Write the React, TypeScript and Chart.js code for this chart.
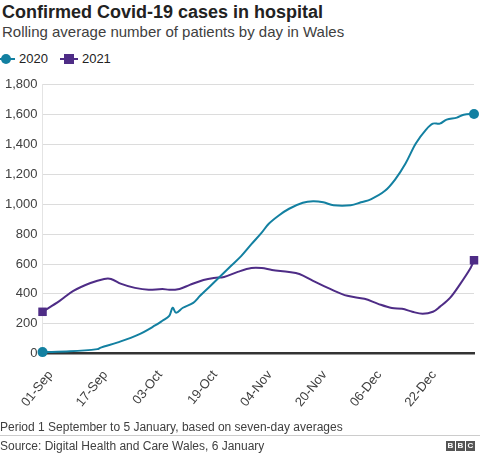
import React, { useEffect, useRef } from "react";
import { Chart, registerables } from "chart.js";

Chart.register(...registerables);

// Day index from 1 September (0) to 5 January (126)
const tickDays = [0, 16, 32, 48, 64, 80, 96, 112];
const tickLabels = ["01-Sep", "17-Sep", "03-Oct", "19-Oct", "04-Nov", "20-Nov", "06-Dec", "22-Dec"];

const days2020 = [0, 8, 16, 17, 22, 28, 33, 35, 37, 38, 39, 41, 44, 46, 49, 52, 55, 58, 61, 64, 66, 69, 72, 76, 79, 82, 85, 90, 93, 96, 100, 103, 106, 109, 112, 114, 116, 118, 121, 123, 126];
const values2020 = [10, 15, 30, 40, 75, 127, 190, 220, 253, 307, 273, 307, 340, 387, 453, 520, 587, 653, 733, 810, 868, 925, 970, 1010, 1020, 1013, 993, 993, 1013, 1035, 1090, 1167, 1273, 1407, 1500, 1540, 1540, 1567, 1580, 1600, 1605];

const days2021 = [0, 5, 9, 14, 18, 20, 23, 27, 31, 35, 37, 40, 43, 47, 50, 53, 57, 61, 64, 67, 72, 75, 79, 84, 89, 94, 98, 102, 105, 108, 111, 114, 116, 119, 122, 125, 126];
const values2021 = [280, 353, 420, 473, 500, 500, 467, 440, 427, 433, 427, 433, 460, 493, 507, 513, 547, 573, 573, 560, 547, 533, 487, 433, 387, 367, 333, 305, 300, 280, 267, 280, 313, 373, 467, 573, 625];

const series = [
  { label: "2020", days: days2020, values: values2020, color: "#1380A1", marker: "circle" },
  { label: "2021", days: days2021, values: values2021, color: "#4E2C86", marker: "rect" },
];

const FONT = "'Liberation Sans', Arial, Helvetica, sans-serif";

export default function App() {
  const canvasRef = useRef<HTMLCanvasElement | null>(null);

  useEffect(() => {
    document.body.style.margin = "0";
    const ctx = canvasRef.current!;
    const chart = new Chart(ctx, {
      type: "line",
      data: {
        datasets: series.map((s) => ({
          label: s.label,
          data: s.days.map((d, i) => ({ x: d, y: s.values[i] })),
          borderColor: s.color,
          backgroundColor: s.color,
          borderWidth: 2,
          tension: 0.35,
          pointStyle: s.marker as any,
          pointRadius: (c: any) => (c.dataIndex === 0 || c.dataIndex === s.days.length - 1 ? (s.marker === "rect" ? 6 : 5) : 0),
          pointHoverRadius: 0,
          pointBorderWidth: 0,
          clip: false as any,
        })),
      },
      options: {
        animation: false,
        responsive: false,
        maintainAspectRatio: false,
        layout: { padding: { top: 5, right: 6, left: 0, bottom: 0 } },
        plugins: { legend: { display: false }, tooltip: { enabled: false } },
        scales: {
          x: {
            type: "linear",
            min: 0,
            max: 126,
            afterBuildTicks: (scale: any) => {
              scale.ticks = tickDays.map((v) => ({ value: v }));
            },
            grid: { display: false, drawTicks: false },
            border: { display: true, color: "#333333", width: 2.5 },
            ticks: {
              autoSkip: false,
              minRotation: 51,
              maxRotation: 51,
              padding: 14,
              labelOffset: 8,
              color: "#404040",
              font: { family: FONT, size: 13 },
              callback: (v: any) => {
                const i = tickDays.indexOf(Number(v));
                return i >= 0 ? tickLabels[i] : "";
              },
            },
          },
          y: {
            min: 0,
            max: 1800,
            grid: {
              color: (c: any) => (c.tick && c.tick.value === 0 ? "rgba(0,0,0,0)" : "#dcdcdc"),
              drawTicks: false,
              lineWidth: 1,
            },
            border: { display: true, color: "#e4e4e4", width: 1 },
            ticks: {
              stepSize: 200,
              padding: 5,
              color: "#404040",
              font: { family: FONT, size: 13 },
              callback: (v: any) => Number(v).toLocaleString("en-US"),
            },
          },
        },
      },
    });
    return () => chart.destroy();
  }, []);

  const legendItem = (s: (typeof series)[number]) => (
    <div key={s.label} style={{ display: "flex", alignItems: "center", marginRight: 12 }}>
      <div style={{ position: "relative", width: 18, height: 12, marginRight: 4 }}>
        <div style={{ position: "absolute", left: 0, width: 18, top: 5, height: 2, background: s.color }} />
        <div
          style={{
            position: "absolute",
            left: 4,
            top: 1,
            width: 10,
            height: 10,
            background: s.color,
            borderRadius: s.marker === "circle" ? "50%" : 0,
          }}
        />
      </div>
      <span style={{ fontSize: 13, color: "#222" }}>{s.label}</span>
    </div>
  );

  return (
    <div style={{ position: "relative", width: 480, height: 456, fontFamily: FONT, background: "#fff", overflow: "hidden" }}>
      <div style={{ position: "absolute", left: 2, top: 0, fontSize: 18, fontWeight: "bold", color: "#222", lineHeight: "24px", whiteSpace: "nowrap" }}>
        Confirmed Covid-19 cases in hospital
      </div>
      <div style={{ position: "absolute", left: 2, top: 22, fontSize: 15, color: "#404040", lineHeight: "20px", whiteSpace: "nowrap" }}>
        Rolling average number of patients by day in Wales
      </div>
      <div style={{ position: "absolute", left: -3, top: 51, display: "flex" }}>{series.map(legendItem)}</div>
      <canvas ref={canvasRef} width={480} height={352} style={{ position: "absolute", left: 0, top: 72, width: 480, height: 352 }} />
      <div style={{ position: "absolute", left: 0, top: 419, fontSize: 12, color: "#404040", lineHeight: "16px", whiteSpace: "nowrap" }}>
        Period 1 September to 5 January, based on seven-day averages
      </div>
      <div style={{ position: "absolute", left: 0, right: 0, top: 435, height: 1, background: "#cccccc" }} />
      <div style={{ position: "absolute", left: 0, top: 438, fontSize: 12, color: "#404040", lineHeight: "16px", whiteSpace: "nowrap" }}>
        Source: Digital Health and Care Wales, 6 January
      </div>
      <div style={{ position: "absolute", left: 446, top: 441, display: "flex" }}>
        {["B", "B", "C"].map((l, i) => (
          <div
            key={i}
            style={{
              width: 9,
              height: 10,
              marginLeft: i ? 1 : 0,
              background: "#555",
              color: "#fff",
              fontSize: 8,
              fontWeight: "bold",
              lineHeight: "10px",
              textAlign: "center",
            }}
          >
            {l}
          </div>
        ))}
      </div>
    </div>
  );
}
